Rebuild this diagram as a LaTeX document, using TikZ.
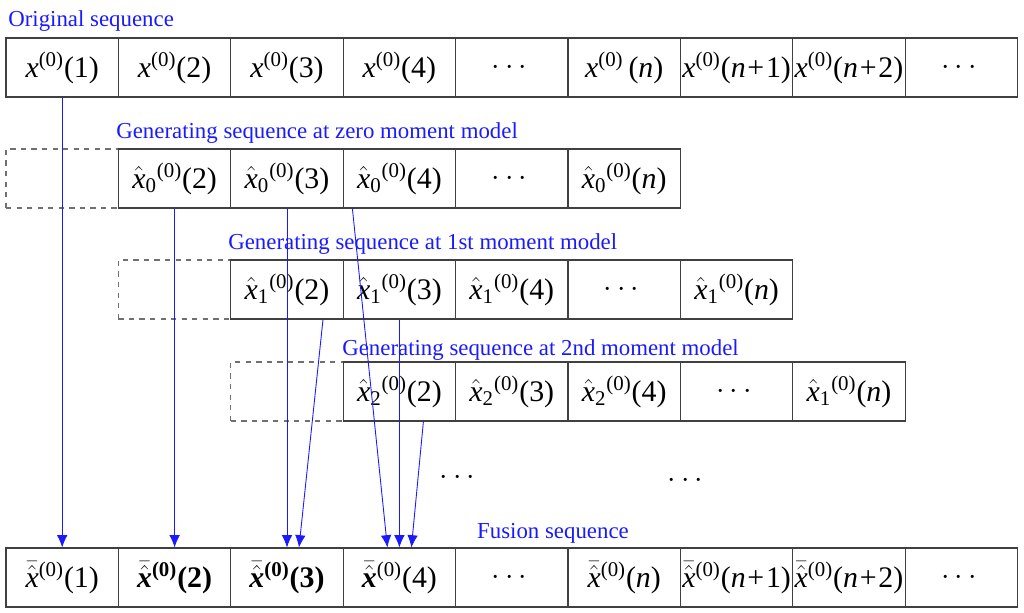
\documentclass[tikz,border=0pt]{standalone}
\usepackage{amsmath}
\usepackage{fontspec}
\setmainfont{Liberation Serif}
\usetikzlibrary{calc,arrows.meta}
\definecolor{seqblue}{HTML}{1A1AFF}
\definecolor{seqgrid}{HTML}{404040}
\newcommand{\vx}{\text{\itshape x}}
\newcommand{\vn}{\textit{n}}
\newcommand{\supz}{\text{(0)}}
\newcommand{\bvx}{\text{\bfseries\itshape x}}

\begin{document}
\begin{tikzpicture}[
        x=0.02cm, y=-0.02cm,
        every node/.style={font=\fontsize{17}{20}\selectfont},
        cell/.style={
          draw=seqgrid, line width=0.6pt,
          minimum width=2.248cm, minimum height=1.18cm, inner sep=0pt,
        },
        ghost/.style={cell, draw=seqgrid!75, dashed},
        arr/.style={-{Latex[length=7pt,width=6pt]}, draw=seqblue, line width=0.5pt},
        lbl/.style={font=\fontsize{13}{15}\selectfont, text=seqblue, inner sep=0pt},
      ]
      \useasboundingbox (0,0) rectangle (1024,612);

      % original sequence
      \node[lbl, anchor=base west] (tOrig) at (8,27) {Original sequence};
      \node[cell] (o1) at (62.2,67.5)  {$\vx^{\supz}$(1)};
      \node[cell] (o2) at (174.6,67.5) {$\vx^{\supz}$(2)};
      \node[cell] (o3) at (287,67.5)   {$\vx^{\supz}$(3)};
      \node[cell] (o4) at (399.4,67.5) {$\vx^{\supz}$(4)};
      \node[cell] (o5) at (511.8,67.5) {$\cdots$};
      \node[cell] (o6) at (624.2,67.5) {$\vx^{\supz}$\,(\vn)};
      \node[cell] (o7) at (736.6,67.5) {$\vx^{\supz}$(\vn\kern1pt+\kern1pt1)};
      \node[cell] (o8) at (849,67.5)   {$\vx^{\supz}$(\vn\kern1pt+\kern1pt2)};
      \node[cell] (o9) at (961.4,67.5) {$\cdots$};

      % zero moment model
      \node[lbl, anchor=base west] (tZero) at (116,138) {Generating sequence at zero moment model};
      \node[ghost] (z1) at (62.2,178.5) {};
      \node[cell] (z2) at (174.6,178.5) {$\hat{\vx}_{\text{0}}{}^{\supz}$(2)};
      \node[cell] (z3) at (287,178.5)   {$\hat{\vx}_{\text{0}}{}^{\supz}$(3)};
      \node[cell] (z4) at (399.4,178.5) {$\hat{\vx}_{\text{0}}{}^{\supz}$(4)};
      \node[cell] (z5) at (511.8,178.5) {$\cdots$};
      \node[cell] (z6) at (624.2,178.5) {$\hat{\vx}_{\text{0}}{}^{\supz}$(\vn)};

      % 1st moment model
      \node[lbl, anchor=base west] (tFirst) at (228,249) {Generating sequence at 1st moment model};
      \node[ghost] (f2) at (174.6,289.5) {};
      \node[cell] (f3) at (287,289.5)   {$\hat{\vx}_{\text{1}}{}^{\supz}$(2)};
      \node[cell] (f4) at (399.4,289.5) {$\hat{\vx}_{\text{1}}{}^{\supz}$(3)};
      \node[cell] (f5) at (511.8,289.5) {$\hat{\vx}_{\text{1}}{}^{\supz}$(4)};
      \node[cell] (f6) at (624.2,289.5) {$\cdots$};
      \node[cell] (f7) at (736.6,289.5) {$\hat{\vx}_{\text{1}}{}^{\supz}$(\vn)};

      % 2nd moment model
      \node[lbl, anchor=base west] (tSecond) at (342,355) {Generating sequence at 2nd moment model};
      \node[ghost] (s3) at (287,391.5) {};
      \node[cell] (s4) at (399.4,391.5) {$\hat{\vx}_{\text{2}}{}^{\supz}$(2)};
      \node[cell] (s5) at (511.8,391.5) {$\hat{\vx}_{\text{2}}{}^{\supz}$(3)};
      \node[cell] (s6) at (624.2,391.5) {$\hat{\vx}_{\text{2}}{}^{\supz}$(4)};
      \node[cell] (s7) at (736.6,391.5) {$\cdots$};
      \node[cell] (s8) at (849,391.5)   {$\hat{\vx}_{\text{1}}{}^{\supz}$(\vn)};

      \node (dotsA) at (460,478) {$\cdots$};
      \node (dotsB) at (688,481) {$\cdots$};

      % fusion sequence
      \node[lbl, anchor=base] (tFusion) at (553,538) {Fusion sequence};
      \node[cell] (u1) at (62.2,577.5)  {$\bar{\hat{\vx}}^{\supz}$(1)};
      \node[cell] (u2) at (174.6,577.5) {$\bar{\hat{\bvx}}^{\text{\bfseries(0)}}$\textbf{(2)}};
      \node[cell] (u3) at (287,577.5)   {$\bar{\hat{\bvx}}^{\text{\bfseries(0)}}$\textbf{(3)}};
      \node[cell] (u4) at (399.4,577.5) {$\bar{\hat{\bvx}}^{\supz}$(4)};
      \node[cell] (u5) at (511.8,577.5) {$\cdots$};
      \node[cell] (u6) at (624.2,577.5) {$\bar{\hat{\vx}}^{\supz}$(\vn)};
      \node[cell] (u7) at (736.6,577.5) {$\bar{\hat{\vx}}^{\supz}$(\vn\kern1pt+\kern1pt1)};
      \node[cell] (u8) at (849,577.5)   {$\bar{\hat{\vx}}^{\supz}$(\vn\kern1pt+\kern1pt2)};
      \node[cell] (u9) at (961.4,577.5) {$\cdots$};

      \draw[arr] (o1.south) -- (u1.north);
      \draw[arr] (z2.south) -- (u2.north);
      \draw[arr] (z3.south) -- (u3.north);
      \draw[arr] ($(z4.south)+(-47,0)$) -- ($(u4.north)+(-12,0)$);
      \draw[arr] ($(f3.south)+(36,0)$) -- ($(u3.north)+(12,0)$);
      \draw[arr] (f4.south) -- (u4.north);
      \draw[arr] ($(s4.south)+(24,0)$) -- ($(u4.north)+(12,0)$);
    \end{tikzpicture}
\end{document}
